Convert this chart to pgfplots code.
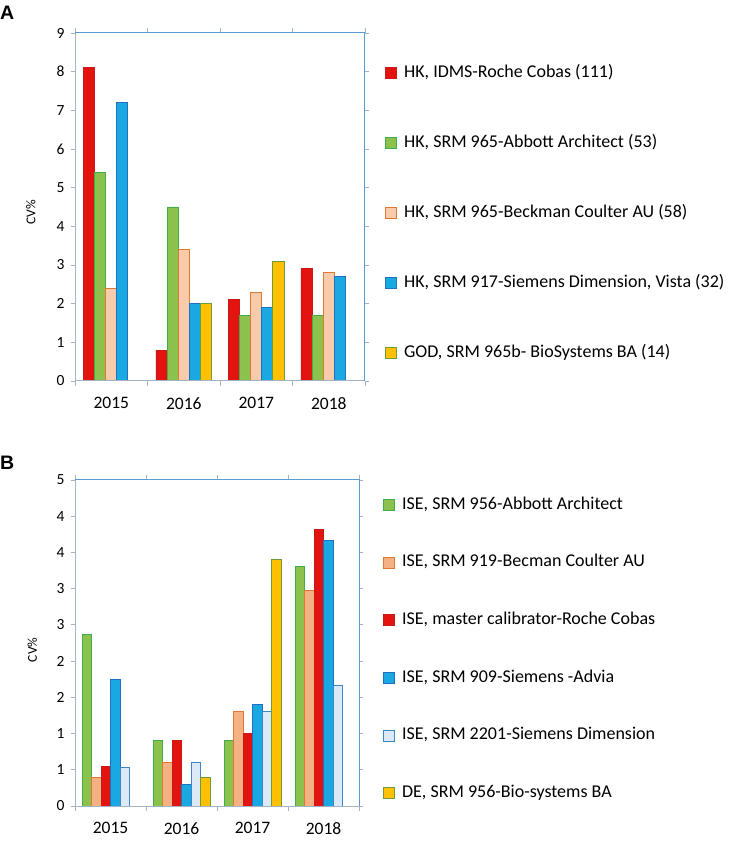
\documentclass[border=0pt]{standalone}
\usepackage{fontspec}
\setmainfont{Carlito}
\newfontfamily\panelfont{Liberation Sans}
\usepackage{pgfplots}
\pgfplotsset{compat=1.18}

\definecolor{cred}{HTML}{E3140F}
\definecolor{credB}{HTML}{C81A16}
\definecolor{cgreen}{HTML}{8CC14E}
\definecolor{cgreenB}{HTML}{3DAE49}
\definecolor{cpeach}{HTML}{F8CBAD}
\definecolor{corangeB}{HTML}{E0782F}
\definecolor{cblue}{HTML}{1AA8E2}
\definecolor{cblueB}{HTML}{2070C0}
\definecolor{cyellow}{HTML}{FFC000}
\definecolor{cyellowB}{HTML}{6E9B3C}
\definecolor{corange}{HTML}{F4B183}
\definecolor{clight}{HTML}{DCE9F7}
\definecolor{clightB}{HTML}{3D85C6}
\definecolor{axgray}{HTML}{A3B4C6}
\definecolor{axblue}{HTML}{5B9BD5}

\newcommand\xfont{\fontsize{17.5bp}{20bp}\selectfont}
\newcommand\yfont{\fontsize{15.5bp}{18bp}\selectfont}
\newcommand\lfont{\fontsize{13.5bp}{16bp}\selectfont}
\newcommand\legfont{\fontsize{18bp}{21bp}\selectfont}

\pgfplotsset{
  mybars/.style={
    scale only axis, ybar=0pt, xmin=-0.5, xmax=3.5, ymin=0,
    xtick={0,1,2,3}, xticklabels={2015,2016,2017,2018},
    major x tick style={draw=none},
    minor xtick={-0.5,0.5,1.5,2.5,3.5},
    minor x tick style={draw=axgray, line width=0.8bp},
    minor tick length=5bp,
    major tick length=4bp,
    tick align=outside,
    major y tick style={draw=axgray, line width=0.8bp},
    xticklabel style={font=\xfont, yshift=-9bp},
    yticklabel style={font=\yfont, xshift=-3bp},
    axis line style={draw=none},
    ylabel={CV\%},
    every axis y label/.style={rotate=90, anchor=center, font=\lfont},
    /pgf/number format/assume math mode=true,
    legend image code/.code={\draw[#1] (0bp,-5.5bp) rectangle (11bp,5.5bp); \path (17bp,0bp);},
    legend cell align=left,
    every axis plot/.append style={line width=0.9bp},
    after end axis/.code={
      \draw[axgray, line width=1bp] (rel axis cs:0,1) -- (rel axis cs:0,0) -- (rel axis cs:1,0);
      \draw[axblue, line width=1bp] (rel axis cs:0,1) -- (rel axis cs:1,1) -- (rel axis cs:1,0);
    },
  }
}

\begin{document}
\begin{tikzpicture}
\path[use as bounding box] (0,0) rectangle (732bp,841bp);
\node[anchor=base west, inner sep=0pt, font=\panelfont\bfseries\fontsize{19.5bp}{22bp}\selectfont] at (0bp,821bp) {A};
\node[anchor=base west, inner sep=0pt, font=\panelfont\bfseries\fontsize{19.5bp}{22bp}\selectfont] at (0bp,371bp) {B};

\begin{axis}[mybars,
  at={(75bp,460bp)}, anchor=south west,
  width=290bp, height=348bp,
  bar width=11.1bp,
  ymax=9, ytick={0,1,...,9},
  every axis y label/.append style={at={(axis description cs:-0.152,0.484)}},
  legend style={at={(axis description cs:1.069,0.482)}, anchor=west,
    draw=none, fill=none, inner sep=0pt, font=\legfont,
    row sep=51.5bp,
    nodes={inner sep=1bp, text height=12.5bp, text depth=4bp}},
]
\addplot[fill=cred, draw=credB] coordinates {(0,8.1) (1,0.8) (2,2.1) (3,2.9)};
\addlegendentry{HK, IDMS-Roche Cobas (111)}
\addplot[fill=cgreen, draw=cgreenB] coordinates {(0,5.4) (1,4.5) (2,1.7) (3,1.7)};
\addlegendentry{HK, SRM 965-Abbott Architect (53)}
\addplot[fill=cpeach, draw=corangeB] coordinates {(0,2.4) (1,3.4) (2,2.3) (3,2.8)};
\addlegendentry{HK, SRM 965-Beckman Coulter AU (58)}
\addplot[fill=cblue, draw=cblueB] coordinates {(0,7.2) (1,2.0) (2,1.9) (3,2.7)};
\addlegendentry{HK, SRM 917-Siemens Dimension, Vista (32)}
\addplot[fill=cyellow, draw=cyellowB] coordinates {(1,2.0) (2,3.1)};
\addlegendentry{GOD, SRM 965b- BioSystems BA (14)}
\end{axis}

\begin{axis}[mybars,
  at={(75bp,35bp)}, anchor=south west,
  width=284bp, height=326bp,
  bar width=9.5bp,
  ymax=4.5, ytick={0,0.5,...,4.5},
  yticklabels={0,1,1,2,2,3,3,4,4,5},
  every axis y label/.append style={at={(axis description cs:-0.15,0.479)}},
  legend style={at={(axis description cs:1.0845,0.481)}, anchor=west,
    draw=none, fill=none, inner sep=0pt, font=\legfont,
    row sep=39.2bp,
    nodes={inner sep=1bp, text height=12.5bp, text depth=4bp}},
]
\addplot[fill=cgreen, draw=cgreenB] coordinates {(0,2.37) (1,0.9) (2,0.9) (3,3.3)};
\addlegendentry{ISE, SRM 956-Abbott Architect}
\addplot[fill=corange, draw=corangeB] coordinates {(0,0.4) (1,0.6) (2,1.3) (3,2.98)};
\addlegendentry{ISE, SRM 919-Becman Coulter AU}
\addplot[fill=cred, draw=credB] coordinates {(0,0.55) (1,0.9) (2,1.0) (3,3.82)};
\addlegendentry{ISE, master calibrator-Roche Cobas}
\addplot[fill=cblue, draw=cblueB] coordinates {(0,1.74) (1,0.3) (2,1.4) (3,3.67)};
\addlegendentry{ISE, SRM 909-Siemens -Advia}
\addplot[fill=clight, draw=clightB] coordinates {(0,0.53) (1,0.6) (2,1.3) (3,1.66)};
\addlegendentry{ISE, SRM 2201-Siemens Dimension}
\addplot[fill=cyellow, draw=cyellowB] coordinates {(1,0.4) (2,3.4)};
\addlegendentry{DE, SRM 956-Bio-systems BA}
\end{axis}
\end{tikzpicture}
\end{document}
